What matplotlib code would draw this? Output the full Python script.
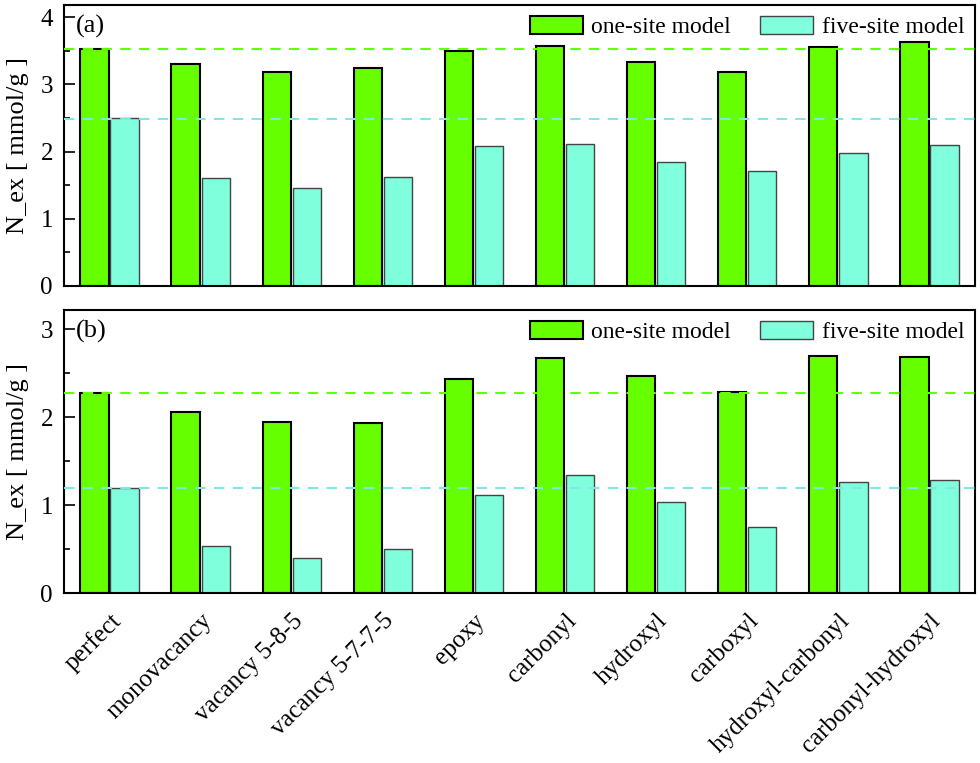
import numpy as np
import matplotlib
matplotlib.use("Agg")
import matplotlib.pyplot as plt
from matplotlib.ticker import MultipleLocator

plt.rcParams['font.family'] = ['Liberation Serif', 'DejaVu Serif']

categories = ['perfect', 'monovacancy', 'vacancy 5-8-5', 'vacancy 5-7-7-5', 'epoxy',
              'carbonyl', 'hydroxyl', 'carboxyl', 'hydroxyl-carbonyl', 'carbonyl-hydroxyl']

# panel (a)
one_site_a = [3.53, 3.30, 3.18, 3.24, 3.50, 3.57, 3.33, 3.18, 3.56, 3.63]
five_site_a = [2.50, 1.61, 1.46, 1.62, 2.08, 2.11, 1.84, 1.71, 1.98, 2.09]
ref_a = [3.53, 2.49]

# panel (b)
one_site_b = [2.27, 2.06, 1.94, 1.93, 2.44, 2.67, 2.47, 2.29, 2.70, 2.68]
five_site_b = [1.20, 0.53, 0.40, 0.50, 1.11, 1.34, 1.03, 0.75, 1.26, 1.29]
ref_b = [2.27, 1.20]

green = '#66ff00'
cyan = '#7fffdc'

fig = plt.figure(figsize=(9.8, 7.63), dpi=100)
ax1 = fig.add_axes([64/980, 1-286/763, 911/980, 281/763])
ax2 = fig.add_axes([64/980, 1-593/763, 911/980, 283/763])

x = np.arange(len(categories))
w = 0.31

def panel(ax, one, five, ref, ymax, label):
    ax.bar(x - w/2 - 0.01, one, w, color=green, edgecolor='black', linewidth=1.5,
           label='one-site model', zorder=2)
    ax.bar(x + w/2 + 0.01, five, w, color=cyan, edgecolor='#444444', linewidth=1.0,
           label='five-site model', zorder=2)
    ax.axhline(ref[0], color=green, ls=(0, (5, 4)), lw=1.5, zorder=3)
    ax.axhline(ref[1], color='#7fe8e0', ls=(0, (5, 4)), lw=1.5, zorder=3)
    ax.set_xlim(-0.5, len(categories) - 0.5)
    ax.set_ylim(0, ymax)
    ax.yaxis.set_major_locator(MultipleLocator(1))
    ax.yaxis.set_minor_locator(MultipleLocator(0.5))
    ax.tick_params(axis='y', which='major', direction='in', length=8, width=1.2,
                   labelsize=18, pad=8)
    ax.tick_params(axis='y', which='minor', direction='in', length=4, width=1.2)
    ax.tick_params(axis='x', length=0)
    for s in ax.spines.values():
        s.set_linewidth(1.5)
    ax.set_ylabel('N_ex [ mmol/g ]', fontsize=19)
    ax.yaxis.set_label_coords(-0.038, 0.5)
    ax.text(0.013, 0.965, label, transform=ax.transAxes, fontsize=19, va='top', ha='left')
    ax.legend(loc='upper right', ncol=2, frameon=False, fontsize=17,
              handlelength=2.25, handleheight=0.85, columnspacing=1.25,
              borderaxespad=0.05, handletextpad=0.35)

panel(ax1, one_site_a, five_site_a, ref_a, 4.18, '(a)')
panel(ax2, one_site_b, five_site_b, ref_b, 3.22, '(b)')

ax1.set_xticks(x)
ax1.set_xticklabels([])
ax2.set_xticks(x)
ax2.set_xticklabels(categories, rotation=45, ha='right', rotation_mode='anchor', fontsize=18)
ax2.tick_params(axis='x', pad=12)

fig.savefig('out.png', dpi=100)
